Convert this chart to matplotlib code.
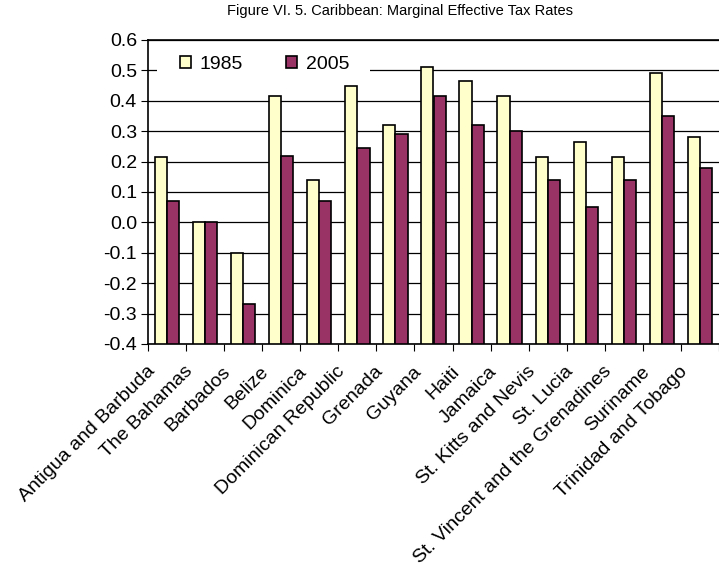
import numpy as np
import matplotlib.pyplot as plt
import matplotlib.transforms as mtransforms
from matplotlib.patches import Rectangle

plt.rcParams['font.family'] = ['Liberation Sans', 'DejaVu Sans']
plt.rcParams['axes.unicode_minus'] = False

# data
countries = ["Antigua and Barbuda", "The Bahamas", "Barbados", "Belize", "Dominica",
             "Dominican Republic", "Grenada", "Guyana", "Haiti", "Jamaica",
             "St. Kitts and Nevis", "St. Lucia", "St. Vincent and the Grenadines",
             "Suriname", "Trinidad and Tobago"]
rate_1985 = [0.215, 0.0, -0.10, 0.415, 0.14, 0.45, 0.32, 0.51, 0.465, 0.415,
             0.215, 0.265, 0.215, 0.49, 0.28]
rate_2005 = [0.07, 0.0, -0.27, 0.22, 0.07, 0.245, 0.29, 0.415, 0.32, 0.30,
             0.14, 0.05, 0.14, 0.35, 0.18]
y_ticks = [-0.4, -0.3, -0.2, -0.1, 0.0, 0.1, 0.2, 0.3, 0.4, 0.5, 0.6]

fig = plt.figure(figsize=(7.19, 5.77), dpi=100)
ax = fig.add_axes([148 / 719, 1 - 344 / 577, 1 - 148 / 719, (344 - 40) / 577])

base = -0.4  # bars grow from the bottom of the axis, as in the original
x = np.arange(len(countries))
w = 0.32
ax.bar(x - w / 2, np.array(rate_1985) - base, w, bottom=base, color="#FFFFCC",
       edgecolor="black", linewidth=1.2, label="1985", zorder=3)
ax.bar(x + w / 2, np.array(rate_2005) - base, w, bottom=base, color="#993366",
       edgecolor="black", linewidth=1.2, label="2005", zorder=3)

ax.set_xlim(-0.5, len(countries) - 0.5)
ax.set_ylim(-0.4, 0.6)
ax.set_yticks(y_ticks)
ax.set_yticklabels([f"{v:.1f}" for v in y_ticks], fontsize=14)
ax.yaxis.grid(True, color="black", linewidth=0.9)
ax.set_axisbelow(True)

# x ticks at category boundaries, labels drawn by hand at centres
ax.set_xticks(np.arange(-0.5, len(countries), 1.0))
ax.set_xticklabels([])
shift = mtransforms.ScaledTranslation(-0.21, -0.19, fig.dpi_scale_trans)
for xi, name in zip(x, countries):
    ax.text(xi, 0, name, transform=ax.get_xaxis_transform() + shift,
            rotation=45, ha="right", va="top", rotation_mode="anchor",
            fontsize=14, clip_on=False)
ax.tick_params(axis="x", length=5, direction="out")
ax.tick_params(axis="y", length=5, direction="out", pad=3)

for s in ["left", "bottom", "top"]:
    ax.spines[s].set_linewidth(1.2)
ax.spines["right"].set_visible(False)

# white box behind the legend hides the gridline
ax.add_patch(Rectangle((0.016, 0.88), 0.373, 0.085, transform=ax.transAxes,
                       facecolor="white", edgecolor="none", zorder=1))
ax.legend(loc="center left", ncol=2, frameon=False, fontsize=14,
          bbox_to_anchor=(0.056, 0.921), handlelength=0.57, handleheight=0.57,
          handletextpad=0.45, columnspacing=2.2, borderaxespad=0, borderpad=0)

fig.text(400 / 719, 1 - 11 / 577, "Figure VI. 5. Caribbean: Marginal Effective Tax Rates",
         ha="center", va="center", fontsize=10.5)

fig.savefig("out.png", dpi=100)
